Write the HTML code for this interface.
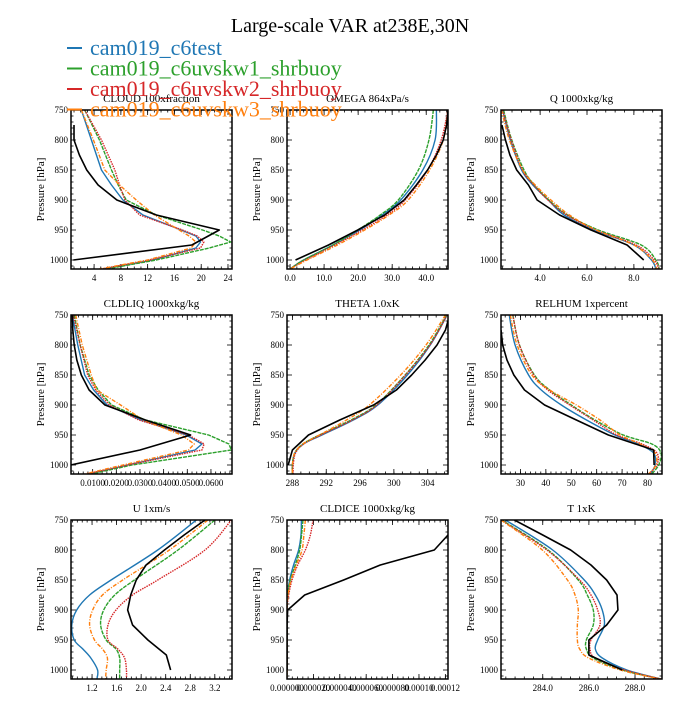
<!DOCTYPE html>
<html><head><meta charset="utf-8"><style>
body{margin:0;background:#fff;}
svg text{font-family:"Liberation Serif",serif;}
</style></head><body>
<svg id="fig" width="700" height="700" viewBox="0 0 700 700" xmlns="http://www.w3.org/2000/svg">
<rect width="700" height="700" fill="#fff"/>
<text x="350" y="32" font-size="20" text-anchor="middle">Large-scale VAR at238E,30N</text>
<g id="panels"></g>
<g id="legend"></g>
</svg>
<script>
const seriesNames=["cam019_c6test","cam019_c6uvskw1_shrbuoy","cam019_c6uvskw2_shrbuoy","cam019_c6uvskw3_shrbuoy"];
const seriesColors=["#1f77b4","#2ca02c","#d62728","#ff7f0e"];
const seriesDash=["","4,1","1.5,1","4,1.5,1,1.5"];
const obsP=[750,775,800,825,850,875,900,925,950,975,1000];

// CLOUD
const cloudModP=[750,800,850,875,900,925,950,960,970,980,1000,1015];
const cloudObsP=[775,800,825,850,875,900,925,950,975,1000];
const cloudObs=[1.0,1.0,1.8,2.9,4.6,7.4,13.3,22.7,18.6,0.9];
const cloudBlue=[2.1,3.6,5.1,6.6,8.3,11.3,17,19.2,19.9,19.2,12.8,5.3];
const cloudGreen=[2.6,4.8,6.6,7.6,8.8,13.3,20.2,22.7,24.4,21.2,13.3,5.8];
const cloudRed=[2.6,5.1,7.1,7.8,8.6,10.8,17.2,19.4,20.4,19.9,12.3,5.1];
const cloudOrange=[2.1,3.9,5.6,7.8,10.3,13,16.7,18.2,19.2,18.5,12,4.8];
const cloudTicks=[4,8,12,16,20,24];
const cloudTickLabels=["4","8","12","16","20","24"];
// OMEGA
const omegaModP=[750,800,850,900,925,950,975,1000,1015];
const omegaObs=[46.4,46,45,43,40.4,37.1,33.5,27.8,19.9,11.3,1.6];
const omegaBlue=[43,42.6,39,32.5,27,20.5,12.6,4,0];
const omegaGreen=[42.1,40.8,37.7,31.8,26.5,19.9,12.6,4,0];
const omegaRed=[46.4,44.4,40.4,33.8,28.5,21.2,13.2,4.6,0];
const omegaOrange=[46.4,45,41,34.7,29.1,21.9,13.9,5,0];
const omegaTicks=[0,10,20,30,40];
const omegaTickLabels=["0.0","10.0","20.0","30.0","40.0"];
// Q
const qModP=[750,800,850,875,900,925,950,975,1000,1015];
const qObsP=[775,800,825,850,875,900,925,950,975,1000];
const qObs=[2.37,2.52,2.71,3.0,3.5,3.87,4.83,6.17,7.71,8.42];
const qBlue=[2.40,2.73,3.21,3.69,4.35,5.02,6.27,8.0,8.75,8.94];
const qGreen=[2.44,2.79,3.31,3.75,4.37,5.17,6.48,8.31,8.94,9.08];
const qRed=[2.40,2.77,3.25,3.73,4.33,5.13,6.38,8.1,8.87,9.06];
const qOrange=[2.35,2.69,3.25,3.79,4.46,5.25,6.38,8.0,8.79,8.98];
const qTicks=[4,6,8];
const qTickLabels=["4.0","6.0","8.0"];
// CLDLIQ
const liqModP=[750,800,850,875,900,925,950,965,975,1000,1015];
const liqObs=[0.0014,0.0016,0.0022,0.0033,0.0052,0.0085,0.0152,0.0323,0.0514,0.030,0.0008];
const liqBlue=[0.0014,0.0037,0.0066,0.0104,0.0161,0.0304,0.0495,0.0562,0.0533,0.0247,0.0085];
const liqGreen=[0.0022,0.0047,0.0085,0.0123,0.018,0.0323,0.059,0.0676,0.0686,0.0266,0.0094];
const liqRed=[0.0018,0.0047,0.0079,0.0113,0.0171,0.0295,0.0505,0.0571,0.0562,0.0247,0.0075];
const liqOrange=[0.0028,0.0056,0.0094,0.0117,0.0218,0.0314,0.0476,0.0529,0.0505,0.0228,0.0066];
const liqTicks=[0.01,0.02,0.03,0.04,0.05,0.06];
const liqTickLabels=["0.0100","0.0200","0.0300","0.0400","0.0500","0.0600"];
// THETA
const thetaModP=[750,800,850,900,925,950,965,980,1000,1015];
const thetaObs=[306.6,306.1,305.1,303.7,302.1,300.3,297.6,293.6,289.9,288,287.5];
const thetaBlue=[306.3,304.3,301.6,298.1,295.2,291.5,289.3,288.3,288,288];
const thetaGreen=[306.24,304.16,301.33,297.87,294.93,291.2,289.23,288.27,288,288];
const thetaRed=[306.3,304.27,301.39,297.97,295.09,291.36,289.33,288.37,288.1,288.1];
const thetaOrange=[306.1,303.8,300.8,297.1,294.4,291.2,289.23,288.27,288,288];
const thetaTicks=[288,292,296,300,304];
const thetaTickLabels=["288","292","296","300","304"];
// RELHUM
const rhModP=[750,800,850,875,900,925,950,965,980,1000,1015];
const rhObsP=[775,800,825,850,875,900,925,950,975,1000];
const rhObs=[22.35,23,24.7,27.4,31.6,39.5,52,64.6,82.4,82.6];
const rhBlue=[25.6,27.9,33.2,38.2,46.1,56,67.2,76.4,82.4,83,81];
const rhGreen=[27,29.6,35.5,41.5,50,59.3,70.5,81.7,85.3,84.4,81.7];
const rhRed=[27,29.6,35.2,40.8,49.4,58.6,67.9,77.8,83.7,83.7,80.4];
const rhOrange=[26,28.7,34.5,41.5,52,61.3,69.2,77.1,83,83.3,80.4];
const rhTicks=[30,40,50,60,70,80];
const rhTickLabels=["30","40","50","60","70","80"];
// U
const uModP=[750,800,850,875,900,925,950,965,980,1000,1015];
const uObs=[3.04,2.7,2.38,2.08,1.92,1.83,1.78,1.86,2.11,2.41,2.48];
const uObsP=[750,775,800,825,850,875,900,925,950,975,1000];
const uBlue=[2.9,2.27,1.51,1.16,0.95,0.87,0.91,1.05,1.18,1.29,1.28];
const uGreen=[3.2,2.6,1.89,1.57,1.39,1.34,1.43,1.59,1.65,1.65,1.65];
const uRed=[3.47,3.04,2.27,1.86,1.59,1.46,1.46,1.62,1.73,1.76,1.76];
const uOrange=[3.09,2.46,1.7,1.37,1.21,1.16,1.24,1.37,1.45,1.43,1.42];
const uTicks=[1.2,1.6,2.0,2.4,2.8,3.2];
const uTickLabels=["1.2","1.6","2.0","2.4","2.8","3.2"];
// CLDICE
const iceModP=[750,775,800,825,850,875,900,950,1015];
const iceObsP=[775,800,825,850,875,900,925,950,975,1000];
const iceObs=[1.22e-4,1.116e-4,7.07e-5,4.29e-5,1.34e-5,5e-7,0,0,0,0];
const iceBlue=[1.09e-5,1.06e-5,8.8e-6,5e-6,2e-6,5e-7,0,0,0];
const iceGreen=[1.21e-5,1.1e-5,9.6e-6,6.3e-6,2.5e-6,5e-7,0,0,0];
const iceRed=[1.97e-5,1.77e-5,1.39e-5,8.1e-6,3.8e-6,1.3e-6,0,0,0];
const iceOrange=[1.39e-5,1.28e-5,1.14e-5,7.1e-6,3e-6,8e-7,0,0,0];
const iceTicks=[0,0.00002,0.00004,0.00006,0.00008,0.0001,0.00012];
const iceTickLabels=["0.000000","0.000020","0.000040","0.000060","0.000080","0.00010","0.00012"];
// T
const tModP=[750,800,850,875,900,925,950,965,980,1000,1015];
const tObs=[282.77,284.0,285.21,286.09,286.77,287.22,287.26,286.77,286.0,286.0,287.45];
const tBlue=[282.38,284.43,285.8,286.28,286.58,286.67,286.38,286.28,286.58,287.65,289.11];
const tGreen=[282.22,284.23,285.54,285.93,286.19,286.19,285.89,285.89,286.19,287.45,289.11];
const tRed=[282.19,284.18,285.6,286.09,286.38,286.48,286.09,286.05,286.28,287.55,289.11];
const tOrange=[282.19,283.98,285.07,285.4,285.54,285.5,285.5,285.6,285.99,287.36,289.11];
const tTicks=[284,286,288];
const tTickLabels=["284.0","286.0","288.0"];

const panels=[
 {id:"cloud",title:"CLOUD  100xfraction",xr:[0.55,24.6],ticks:cloudTicks,labels:cloudTickLabels,obsP:cloudObsP,obs:cloudObs,modP:cloudModP,mods:[cloudBlue,cloudGreen,cloudRed,cloudOrange],minor:1,smooth:false},
 {id:"omega",title:"OMEGA  864xPa/s",xr:[-0.9,46.4],ticks:omegaTicks,labels:omegaTickLabels,obsP:obsP,obs:omegaObs,modP:omegaModP,mods:[omegaBlue,omegaGreen,omegaRed,omegaOrange],minor:2,smooth:true},
 {id:"q",title:"Q  1000xkg/kg",xr:[2.33,9.2],ticks:qTicks,labels:qTickLabels,obsP:qObsP,obs:qObs,modP:qModP,mods:[qBlue,qGreen,qRed,qOrange],minor:0.4,smooth:true},
 {id:"cldliq",title:"CLDLIQ  1000xkg/kg",xr:[0.00084,0.0689],ticks:liqTicks,labels:liqTickLabels,obsP:obsP,obs:liqObs,modP:liqModP,mods:[liqBlue,liqGreen,liqRed,liqOrange],minor:0.002,smooth:false},
 {id:"theta",title:"THETA  1.0xK",xr:[287.36,306.4],ticks:thetaTicks,labels:thetaTickLabels,obsP:obsP,obs:thetaObs,modP:thetaModP,mods:[thetaBlue,thetaGreen,thetaRed,thetaOrange],minor:1,smooth:true},
 {id:"relhum",title:"RELHUM  1xpercent",xr:[22.35,85.7],ticks:rhTicks,labels:rhTickLabels,obsP:rhObsP,obs:rhObs,modP:rhModP,mods:[rhBlue,rhGreen,rhRed,rhOrange],minor:2,smooth:true},
 {id:"u",title:"U  1xm/s",xr:[0.857,3.48],ticks:uTicks,labels:uTickLabels,obsP:uObsP,obs:uObs,modP:uModP,mods:[uBlue,uGreen,uRed,uOrange],minor:0.08,smooth:true},
 {id:"cldice",title:"CLDICE  1000xkg/kg",xr:[0,0.000122],ticks:iceTicks,labels:iceTickLabels,obsP:iceObsP,obs:iceObs,modP:iceModP,mods:[iceBlue,iceGreen,iceRed,iceOrange],minor:0.000004,smooth:true},
 {id:"t",title:"T  1xK",xr:[282.19,289.17],ticks:tTicks,labels:tTickLabels,obsP:obsP,obs:tObs,modP:tModP,mods:[tBlue,tGreen,tRed,tOrange],minor:0.4,smooth:true}
];
const colL=[71,287,501],rowT=[110,315,520],PW=161,PH=159,P0=750,P1=1015;
const NS="http://www.w3.org/2000/svg";
function mk(tag,attrs,parent){const e=document.createElementNS(NS,tag);for(const k in attrs)e.setAttribute(k,attrs[k]);parent.appendChild(e);return e;}
function pathFor(pts,smooth){
 if(!smooth){return "M"+pts.map(p=>p[0].toFixed(2)+","+p[1].toFixed(2)).join("L");}
 let d="M"+pts[0][0].toFixed(2)+","+pts[0][1].toFixed(2);
 for(let i=0;i<pts.length-1;i++){const p0=pts[Math.max(0,i-1)],p1=pts[i],p2=pts[i+1],p3=pts[Math.min(pts.length-1,i+2)];
  const c1=[p1[0]+(p2[0]-p0[0])/6,p1[1]+(p2[1]-p0[1])/6],c2=[p2[0]-(p3[0]-p1[0])/6,p2[1]-(p3[1]-p1[1])/6];
  d+="C"+c1.map(v=>v.toFixed(2)).join(",")+" "+c2.map(v=>v.toFixed(2)).join(",")+" "+p2[0].toFixed(2)+","+p2[1].toFixed(2);}
 return d;}
const root=document.getElementById("panels");
panels.forEach((pn,i)=>{
 const L=colL[i%3],T=rowT[Math.floor(i/3)];
 const xs=v=>L+(v-pn.xr[0])/(pn.xr[1]-pn.xr[0])*PW;
 const ys=p=>T+(p-P0)/(P1-P0)*PH;
 const g=mk("g",{},root);
 
 
 const tt=mk("text",{x:L+PW/2,y:T-8,"font-size":"11","text-anchor":"middle"},g);tt.textContent=pn.title;
 
 
 const yl=mk("text",{x:0,y:0,"font-size":"11","text-anchor":"middle",transform:`translate(${L-27},${T+PH/2}) rotate(-90)`},g);yl.textContent="Pressure [hPa]";
 
 
 const cid="clip"+i;const cp=mk("clipPath",{id:cid},g);mk("rect",{x:L,y:T,width:PW,height:PH},cp);
 const tk=mk("g",{stroke:"#000","stroke-width":"0.8"},g);
 
 
 for(let p=750;p<=1010;p+=10){const y=ys(p),len=(p%50===0)?5:2.5;
  mk("line",{x1:L,y1:y,x2:L+len,y2:y},tk);mk("line",{x1:L+PW,y1:y,x2:L+PW-len,y2:y},tk);}
 [750,800,850,900,950,1000].forEach(p=>{const t=mk("text",{x:L-3,y:ys(p)+3,"font-size":"9","text-anchor":"end",fill:"#000",stroke:"none"},g);t.textContent=String(p);
  
  });
 const m=pn.minor;let v0=Math.ceil(pn.xr[0]/m-1e-6);
 for(let k=v0;k*m<=pn.xr[1]+1e-12;k++){const x=xs(k*m);mk("line",{x1:x,y1:T+PH,x2:x,y2:T+PH-2.5},tk);mk("line",{x1:x,y1:T,x2:x,y2:T+2.5},tk);}
 pn.ticks.forEach((v,j)=>{const x=xs(v);mk("line",{x1:x,y1:T+PH,x2:x,y2:T+PH-5},tk);mk("line",{x1:x,y1:T,x2:x,y2:T+5},tk);
  const t=mk("text",{x:x,y:T+PH+12,"font-size":"9","text-anchor":"middle"},g);t.textContent=pn.labels[j];
  
  });
 const lg=mk("g",{"clip-path":`url(#${cid})`,fill:"none","stroke-linejoin":"round"},g);
 pn.mods.forEach((arr,s)=>{const pts=arr.map((v,k)=>[xs(v),ys(pn.modP[k])]);
  const pe=mk("path",{d:pathFor(pts,pn.smooth),stroke:seriesColors[s],"stroke-width":"1.4","stroke-dasharray":seriesDash[s]},lg);
  
  });
 const ob=mk("path",{d:pathFor(pn.obs.map((v,k)=>[xs(v),ys(pn.obsP[k])]),false),stroke:"#000","stroke-width":"1.6"},lg);
 
 
 const fr=mk("rect",{x:L,y:T,width:PW,height:PH,fill:"none",stroke:"#000","stroke-width":"1.5"},g);
 
 
});
const leg=document.getElementById("legend");
seriesNames.forEach((n,s)=>{const y=55+s*20.5;
 const e=mk("g",{},leg);
 
 
 mk("line",{x1:67,y1:y-7,x2:82,y2:y-7,stroke:seriesColors[s],"stroke-width":"2"},e);
 const t=mk("text",{x:90,y:y,"font-size":"22",fill:seriesColors[s]},e);t.textContent=n;});
</script>
</body></html>
